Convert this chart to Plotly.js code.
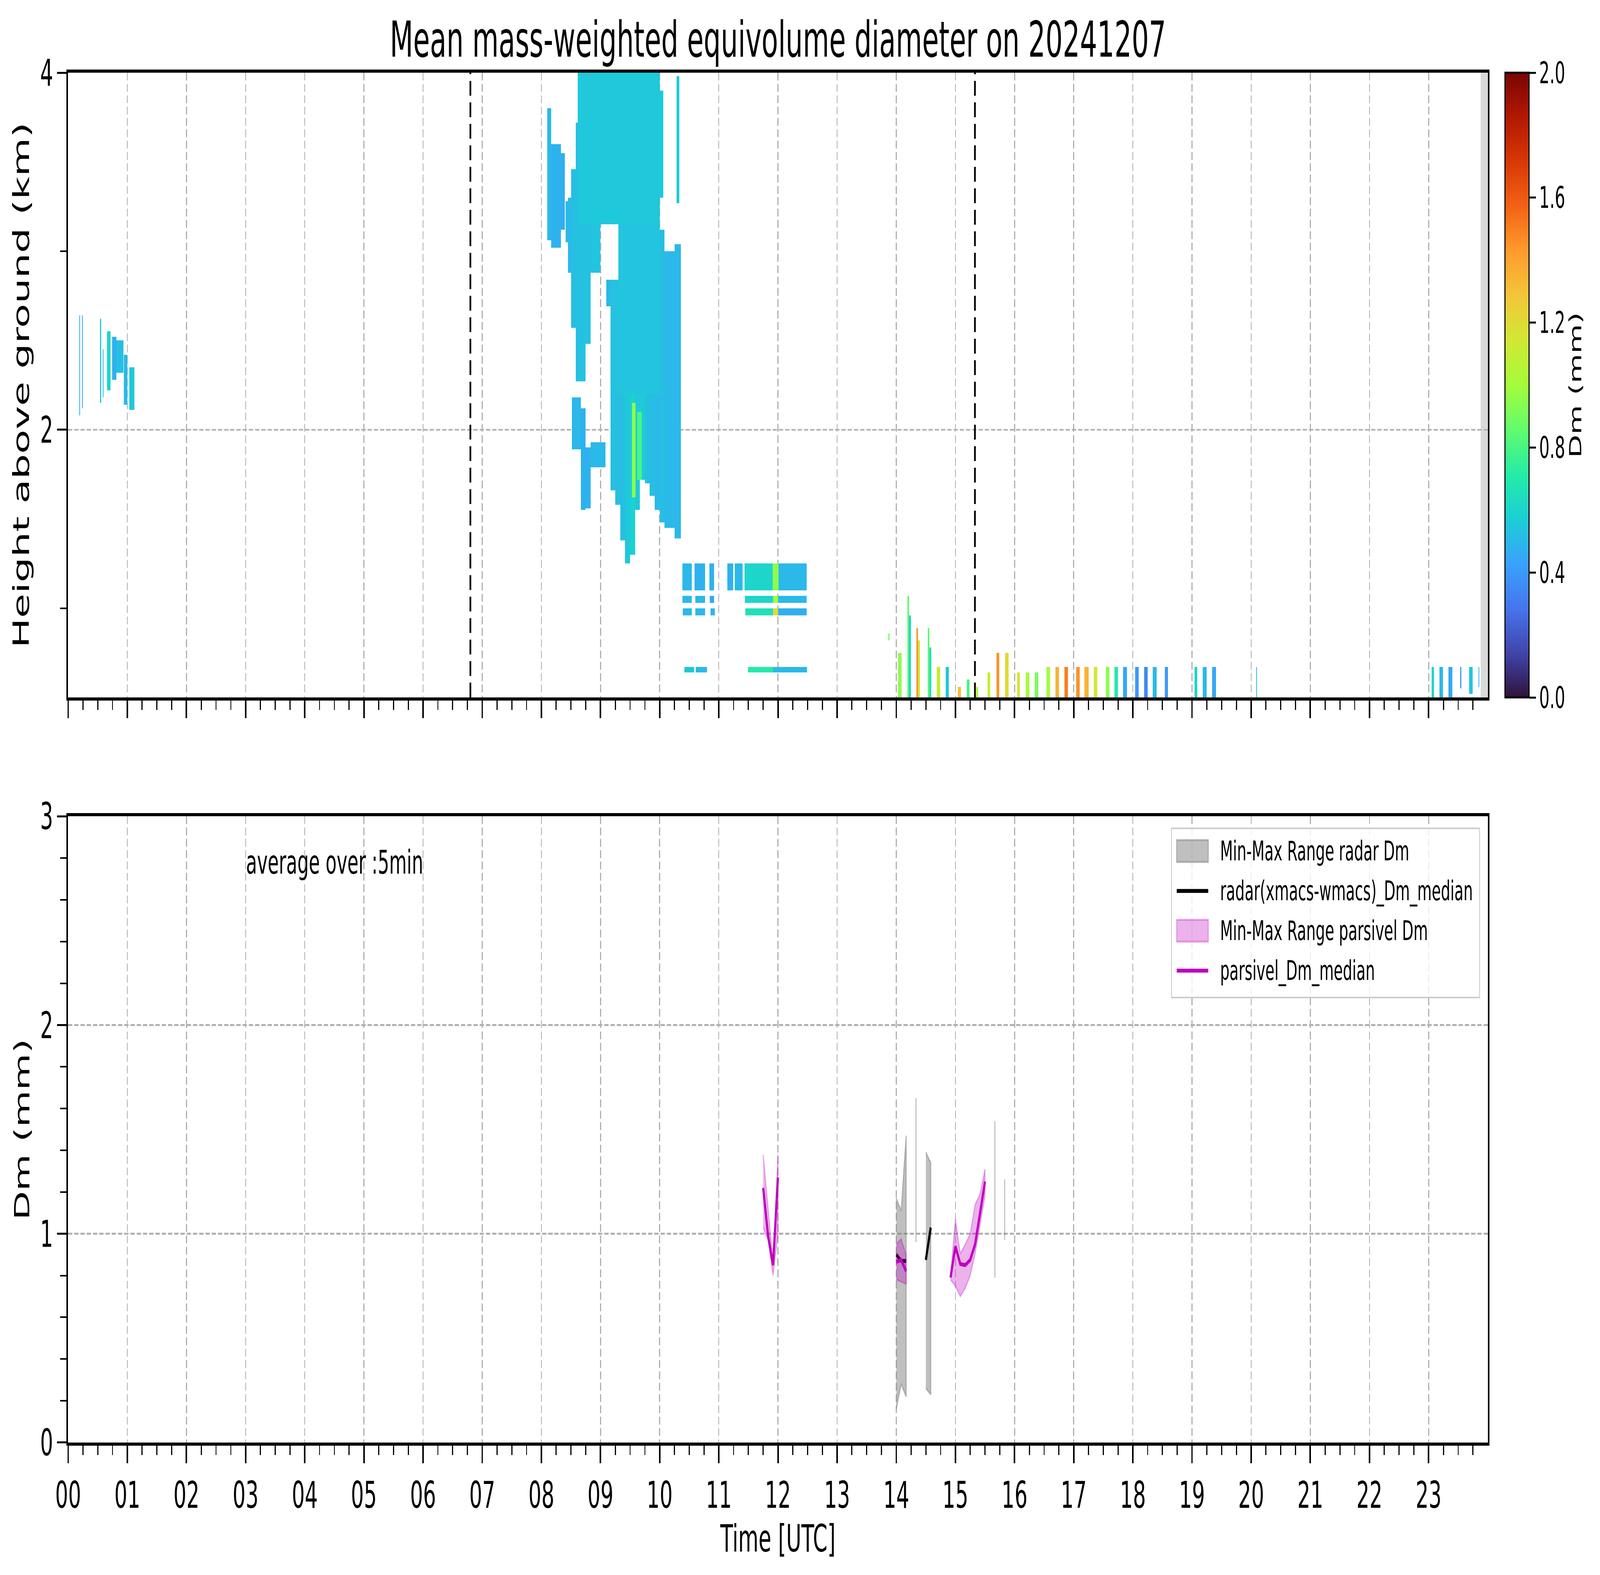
<!DOCTYPE html>
<html>
<head>
<meta charset="utf-8">
<script src="https://cdn.plot.ly/plotly-3.0.1.min.js"></script>
<style>
  html, body { margin: 0; padding: 0; background: #fff; overflow: hidden; }
  #chart { width: 7442px; height: 4031px; transform-origin: 0 0; }
</style>
</head>
<body>
<div id="chart"></div>
<script>
const HOUR_TICKS = [0, 1, 2, 3, 4, 5, 6, 7, 8, 9, 10, 11, 12, 13, 14, 15, 16, 17, 18, 19, 20, 21, 22, 23];
const HOUR_LABELS = ["00", "01", "02", "03", "04", "05", "06", "07", "08", "09", "10", "11",
  "12", "13", "14", "15", "16", "17", "18", "19", "20", "21", "22", "23"];

// matplotlib "turbo"
const TURBO = ["#30123b", "#4145ab", "#4675ed", "#39a2fc", "#1bcfd4", "#24eca6", "#61fc6c",
  "#a4fc3b", "#d1e834", "#f3c63a", "#fe9b2d", "#f36315", "#d93806", "#b11901", "#7a0403"];

// radar echoes: [start h, end h, bottom km, top km, Dm mm]
const echoEarly = [
  [0.19, 0.20, 2.08, 2.64, 0.5],
  [0.23, 0.25, 2.12, 2.64, 0.45],
  [0.54, 0.56, 2.15, 2.62, 0.55],
  [0.58, 0.60, 2.18, 2.45, 0.5],
  [0.66, 0.72, 2.22, 2.55, 0.6],
  [0.74, 0.82, 2.28, 2.52, 0.48],
  [0.82, 0.93, 2.32, 2.50, 0.52],
  [0.94, 1.00, 2.14, 2.42, 0.5],
  [1.03, 1.12, 2.11, 2.35, 0.55],
];

const echoCloud = [
  [8.10, 8.17, 3.06, 3.80, 0.5],
  [8.17, 8.33, 3.02, 3.60, 0.48],
  [8.33, 8.40, 3.12, 3.55, 0.47],
  [8.41, 8.45, 3.05, 3.28, 0.5],
  [8.45, 8.50, 2.88, 3.30, 0.5],
  [8.50, 8.58, 2.57, 3.46, 0.52],
  [8.58, 8.62, 2.27, 3.72, 0.52],
  [8.62, 10.00, 3.15, 4.00, 0.55],
  [8.62, 8.75, 2.27, 3.15, 0.53],
  [8.75, 8.83, 2.48, 3.15, 0.53],
  [8.83, 9.00, 2.88, 3.15, 0.54],
  [9.10, 9.17, 2.69, 2.84, 0.5],
  [8.52, 8.67, 1.89, 2.18, 0.5],
  [8.67, 8.75, 1.55, 2.12, 0.48],
  [8.75, 8.83, 1.56, 1.90, 0.48],
  [8.83, 9.08, 1.79, 1.93, 0.5],
  [9.17, 9.30, 2.20, 2.84, 0.53],
  [9.30, 10.00, 2.20, 3.15, 0.54],
  [9.17, 9.25, 1.66, 2.20, 0.52],
  [9.25, 9.33, 1.58, 2.20, 0.52],
  [9.33, 9.42, 1.38, 2.20, 0.52],
  [9.42, 9.50, 1.25, 2.20, 0.55],
  [9.50, 9.58, 1.30, 2.20, 0.58],
  [9.58, 9.67, 1.55, 2.20, 0.55],
  [9.67, 9.75, 1.72, 2.20, 0.56],
  [9.75, 9.83, 1.70, 2.20, 0.52],
  [9.83, 9.92, 1.63, 2.20, 0.52],
  [9.92, 10.00, 1.55, 2.20, 0.5],
  [9.53, 9.59, 1.62, 2.15, 0.95],
  [9.62, 9.70, 1.72, 2.10, 0.8],
  [10.00, 10.08, 1.48, 3.12, 0.52],
  [10.00, 10.06, 3.30, 3.90, 0.55],
  [10.08, 10.25, 1.45, 3.00, 0.5],
  [10.25, 10.36, 1.39, 3.04, 0.5],
  [10.28, 10.33, 3.27, 3.98, 0.56],
];

const echoLayers = [
  [10.38, 10.54, 1.10, 1.25, 0.5],
  [10.59, 10.77, 1.10, 1.25, 0.48],
  [10.84, 10.92, 1.10, 1.25, 0.48],
  [11.14, 11.24, 1.10, 1.25, 0.48],
  [11.27, 11.40, 1.10, 1.25, 0.5],
  [11.43, 11.91, 1.10, 1.25, 0.6],
  [11.91, 12.01, 1.10, 1.25, 0.95],
  [12.01, 12.48, 1.10, 1.25, 0.5],
  [10.38, 10.54, 1.03, 1.07, 0.5],
  [10.60, 10.77, 1.03, 1.07, 0.5],
  [10.85, 10.92, 1.03, 1.07, 0.45],
  [11.44, 11.92, 1.03, 1.07, 0.6],
  [11.92, 12.00, 1.03, 1.07, 1.0],
  [12.00, 12.48, 1.03, 1.07, 0.5],
  [10.39, 10.54, 0.96, 1.00, 0.5],
  [10.60, 10.77, 0.96, 1.00, 0.5],
  [10.86, 10.93, 0.96, 1.00, 0.5],
  [11.45, 11.92, 0.96, 1.00, 0.65],
  [11.92, 12.00, 0.96, 1.00, 1.2],
  [12.00, 12.48, 0.96, 1.00, 0.47],
  [10.42, 10.58, 0.635, 0.672, 0.55],
  [10.61, 10.80, 0.635, 0.672, 0.5],
  [11.49, 11.92, 0.635, 0.672, 0.7],
  [11.92, 12.49, 0.635, 0.672, 0.5],
];

const echoSurface = [
  [13.87, 13.88, 0.82, 0.86, 0.9],
  [14.03, 14.09, 0.50, 0.745, 0.95],
  [14.19, 14.22, 0.50, 1.07, 0.85],
  [14.22, 14.25, 0.50, 0.96, 0.6],
  [14.34, 14.37, 0.50, 0.89, 1.45],
  [14.37, 14.40, 0.50, 0.82, 1.15],
  [14.53, 14.56, 0.50, 0.89, 0.85],
  [14.56, 14.59, 0.50, 0.78, 0.65],
  [14.68, 14.74, 0.50, 0.67, 1.1],
  [14.83, 14.89, 0.50, 0.67, 0.55],
  [15.04, 15.09, 0.50, 0.565, 1.3],
  [15.19, 15.24, 0.50, 0.60, 0.8],
  [15.35, 15.38, 0.50, 0.565, 1.0],
  [15.54, 15.59, 0.50, 0.635, 1.1],
  [15.69, 15.74, 0.50, 0.745, 1.45],
  [15.84, 15.90, 0.50, 0.745, 1.2],
  [16.04, 16.09, 0.50, 0.636, 1.15],
  [16.19, 16.25, 0.50, 0.636, 1.0],
  [16.34, 16.40, 0.50, 0.636, 0.9],
  [16.54, 16.60, 0.50, 0.672, 1.0],
  [16.69, 16.75, 0.50, 0.672, 1.35],
  [16.84, 16.90, 0.50, 0.672, 1.5],
  [17.04, 17.10, 0.50, 0.672, 1.45],
  [17.18, 17.25, 0.50, 0.672, 1.35],
  [17.34, 17.40, 0.50, 0.672, 1.15],
  [17.54, 17.60, 0.50, 0.672, 0.95],
  [17.69, 17.75, 0.50, 0.672, 0.7],
  [17.83, 17.90, 0.50, 0.672, 0.45],
  [18.04, 18.10, 0.50, 0.672, 0.4],
  [18.19, 18.25, 0.50, 0.672, 0.35],
  [18.33, 18.40, 0.50, 0.672, 0.5],
  [18.54, 18.59, 0.50, 0.672, 0.4],
  [19.04, 19.09, 0.50, 0.672, 0.6],
  [19.18, 19.25, 0.50, 0.672, 0.5],
  [19.34, 19.41, 0.50, 0.672, 0.45],
  [20.08, 20.10, 0.50, 0.672, 0.5],
  [23.05, 23.09, 0.50, 0.672, 0.6],
  [23.18, 23.24, 0.50, 0.672, 0.5],
  [23.33, 23.40, 0.50, 0.672, 0.45],
  [23.53, 23.55, 0.55, 0.672, 0.4],
  [23.68, 23.74, 0.52, 0.672, 0.55],
  [23.84, 23.86, 0.564, 0.672, 0.5],
];

// event markers and the no-data span (hours)
const EVENT_TIMES = [6.8, 15.33];
const NODATA_SPAN = [23.88, 24];

// 5-min Dm statistics, bottom panel
const radarTimes = [14.0, 14.083, 14.167, 14.333, 14.5, 14.583, 15.667, 15.833];
const radarMin = [0.16, 0.28, 0.22, 0.96, 0.26, 0.23, 0.79, 0.97];
const radarMax = [1.17, 1.11, 1.47, 1.65, 1.39, 1.34, 1.54, 1.26];
const radarMedian = [0.90, 0.87, 0.87, null, 0.875, 1.03, null, null];

const parsivelTimes = [11.75, 11.833, 11.917, 12.0, 14.0, 14.083, 14.167,
  14.917, 15.0, 15.083, 15.167, 15.25, 15.333, 15.417, 15.5];
const parsivelMin = [1.03, 0.97, 0.80, 1.00, 0.78, 0.77, 0.76,
  0.78, 0.75, 0.70, 0.74, 0.80, 0.905, 1.045, 1.18];
const parsivelMax = [1.38, 1.12, 0.86, 1.38, 0.95, 0.975, 0.90,
  0.80, 1.07, 0.905, 0.95, 1.00, 1.14, 1.19, 1.31];
const parsivelMedian = [1.22, 0.99, 0.85, 1.27, 0.865, 0.875, 0.82,
  0.79, 0.94, 0.855, 0.85, 0.875, 0.95, 1.10, 1.25];

// grid for the height-time image
const DT = 1 / 120;
const DH = 0.01;
const H_MIN = 0.5;
const H_MAX = 4.0;

function rasterize(lists) {
  const nx = Math.round(24 / DT);
  const ny = Math.round((H_MAX - H_MIN) / DH);
  const z = [];
  for (let j = 0; j < ny; j++) z.push(new Array(nx).fill(null));
  lists.forEach((list) => {
    list.forEach(([t0, t1, hb, ht, dm]) => {
      const i0 = Math.round(t0 / DT);
      const i1 = Math.max(i0 + 1, Math.round(t1 / DT));
      const j0 = Math.round((hb - H_MIN) / DH);
      const j1 = Math.max(j0 + 1, Math.round((ht - H_MIN) / DH));
      for (let j = Math.max(j0, 0); j < Math.min(j1, ny); j++) {
        for (let i = i0; i < Math.min(i1, nx); i++) z[j][i] = dm;
      }
    });
  });
  return z;
}

// split into runs of consecutive 5-min samples
function splitRuns(times) {
  const runs = [];
  let cur = [];
  times.forEach((t, k) => {
    if (cur.length && t - times[cur[cur.length - 1]] > 0.1) {
      runs.push(cur);
      cur = [];
    }
    cur.push(k);
  });
  if (cur.length) runs.push(cur);
  return runs;
}

function rangePolygons(times, lo, hi) {
  const x = [];
  const y = [];
  splitRuns(times).forEach((run) => {
    if (x.length) { x.push(null); y.push(null); }
    run.forEach((k) => { x.push(times[k]); y.push(hi[k]); });
    run.slice().reverse().forEach((k) => { x.push(times[k]); y.push(lo[k]); });
  });
  return { x, y };
}

function medianLine(times, med) {
  const x = [];
  const y = [];
  splitRuns(times).forEach((run) => {
    if (x.length) { x.push(null); y.push(null); }
    run.forEach((k) => { x.push(times[k]); y.push(med[k]); });
  });
  return { x, y };
}

const radarRange = rangePolygons(radarTimes, radarMin, radarMax);
const radarLine = medianLine(radarTimes, radarMedian);
const parsivelRange = rangePolygons(parsivelTimes, parsivelMin, parsivelMax);
const parsivelLine = medianLine(parsivelTimes, parsivelMedian);

const GRAY_FILL = "rgba(128,128,128,0.5)";
const PINK_FILL = "rgba(191,0,191,0.3)";
const MAGENTA = "#bf00bf";

const data = [
  {
    type: "heatmap",
    z: rasterize([echoEarly, echoCloud, echoLayers, echoSurface]),
    x0: DT / 2,
    dx: DT,
    y0: H_MIN + DH / 2,
    dy: DH,
    zmin: 0,
    zmax: 2,
    zsmooth: false,
    colorscale: TURBO.map((c, i) => [i / (TURBO.length - 1), c]),
    hoverinfo: "skip",
    showlegend: false,
    xaxis: "x",
    yaxis: "y",
    colorbar: {
      x: 1.0121, xanchor: "left", xref: "paper", xpad: 0,
      y: 1, yanchor: "top", yref: "paper", ypad: 0,
      len: 0.4561, lenmode: "fraction",
      thickness: 112, thicknessmode: "pixels",
      outlinewidth: 5, outlinecolor: "black",
      ticks: "outside", ticklen: 30, tickwidth: 5, tickcolor: "black",
      tickvals: [0, 0.4, 0.8, 1.2, 1.6, 2.0],
      tickformat: ".1f",
      tickfont: { size: 76 },
      title: { text: "Dm (mm)", side: "right", font: { size: 78 } },
    },
  },
  {
    type: "scatter",
    mode: "lines",
    name: "Min-Max Range radar Dm",
    x: radarRange.x,
    y: radarRange.y,
    fill: "toself",
    fillcolor: GRAY_FILL,
    line: { color: GRAY_FILL, width: 5 },
    xaxis: "x2",
    yaxis: "y2",
    hoverinfo: "skip",
  },
  {
    type: "scatter",
    mode: "lines",
    name: "radar(xmacs-wmacs)_Dm_median",
    x: radarLine.x,
    y: radarLine.y,
    line: { color: "black", width: 10 },
    xaxis: "x2",
    yaxis: "y2",
    hoverinfo: "skip",
  },
  {
    type: "scatter",
    mode: "lines",
    name: "Min-Max Range parsivel Dm",
    x: parsivelRange.x,
    y: parsivelRange.y,
    fill: "toself",
    fillcolor: PINK_FILL,
    line: { color: PINK_FILL, width: 5 },
    xaxis: "x2",
    yaxis: "y2",
    hoverinfo: "skip",
  },
  {
    type: "scatter",
    mode: "lines",
    name: "parsivel_Dm_median",
    x: parsivelLine.x,
    y: parsivelLine.y,
    line: { color: MAGENTA, width: 10 },
    xaxis: "x2",
    yaxis: "y2",
    hoverinfo: "skip",
  },
];

// matplotlib-style legend box (paper coords), built from the line traces
const LEG = { x0: 0.7772, x1: 0.9942, y0: 0.3249, y1: 0.4484, swatch0: 0.7809, swatch1: 0.8031, text: 0.8111, row0: 0.4318, step: 0.0291, half: 0.008 };
const legendShapes = [
  {
    type: "rect", xref: "paper", yref: "paper",
    x0: LEG.x0, x1: LEG.x1, y0: LEG.y0, y1: LEG.y1,
    fillcolor: "rgba(255,255,255,0.8)", line: { color: "#cccccc", width: 4 },
  },
];
const legendNotes = [];
data.slice(1).forEach((tr, k) => {
  const y = LEG.row0 - k * LEG.step;
  if (tr.fill) {
    legendShapes.push({
      type: "rect", xref: "paper", yref: "paper",
      x0: LEG.swatch0, x1: LEG.swatch1, y0: y - LEG.half, y1: y + LEG.half,
      fillcolor: tr.fillcolor, line: { color: tr.line.color, width: 5 },
    });
  } else {
    legendShapes.push({
      type: "line", xref: "paper", yref: "paper",
      x0: LEG.swatch0, x1: LEG.swatch1, y0: y, y1: y,
      line: { color: tr.line.color, width: tr.line.width },
    });
  }
  legendNotes.push({
    xref: "paper", yref: "paper", x: LEG.text, y: y,
    xanchor: "left", yanchor: "middle", showarrow: false,
    text: tr.name, font: { size: 69 },
  });
});

const quarterTicks = [];
HOUR_TICKS.forEach((h) => quarterTicks.push(h + 0.25, h + 0.5, h + 0.75));

const gridStyle = {
  showgrid: true,
  gridcolor: "#b0b0b0",
  gridwidth: 4.5,
  griddash: "20px,9px",
  showline: true,
  linewidth: 8,
  linecolor: "black",
  mirror: true,
  zeroline: false,
  ticks: "outside",
  tickcolor: "black",
};

const timeAxis = {
  ...gridStyle,
  range: [0, 24],
  tickmode: "array",
  tickvals: HOUR_TICKS,
  ticktext: HOUR_LABELS,
  ticklen: 45,
  tickwidth: 7,
  minor: {
    tickmode: "array",
    tickvals: quarterTicks,
    ticks: "outside",
    ticklen: 24,
    tickwidth: 5,
    tickcolor: "black",
    showgrid: false,
  },
};

const layout = {
  width: 7442,
  height: 4031,
  margin: { l: 317, r: 522, t: 186, b: 339 },
  paper_bgcolor: "white",
  plot_bgcolor: "white",
  font: { family: "DejaVu Sans", size: 95, color: "black" },
  title: {
    text: "Mean mass-weighted equivolume diameter on 20241207",
    font: { size: 126 },
    x: 0.5, xref: "paper", xanchor: "center",
    y: 0.975, yref: "container", yanchor: "middle",
  },
  showlegend: false,
  xaxis: { ...timeAxis, domain: [0, 1], anchor: "y", showticklabels: false },
  yaxis: {
    ...gridStyle,
    domain: [0.5439, 1],
    anchor: "x",
    range: [H_MIN, H_MAX],
    tickmode: "array",
    tickvals: [2, 4],
    ticklen: 43,
    tickwidth: 5,
    minor: { tickmode: "array", tickvals: [1, 3], ticks: "outside", ticklen: 30, tickwidth: 4, tickcolor: "black", showgrid: false },
    title: { text: "Height above ground (km)", standoff: 20, font: { size: 102 } },
  },
  xaxis2: {
    ...timeAxis,
    domain: [0, 1],
    anchor: "y2",
    showticklabels: true,
    title: { text: "Time [UTC]", standoff: 22, font: { size: 97 } },
  },
  yaxis2: {
    ...gridStyle,
    domain: [0, 0.4572],
    anchor: "x2",
    range: [0, 3],
    tickmode: "array",
    tickvals: [0, 1, 2, 3],
    ticklen: 43,
    tickwidth: 5,
    minor: {
      tickmode: "array",
      tickvals: [0.2, 0.4, 0.6, 0.8, 1.2, 1.4, 1.6, 1.8, 2.2, 2.4, 2.6, 2.8],
      ticks: "outside", ticklen: 30, tickwidth: 4, tickcolor: "black", showgrid: false,
    },
    title: { text: "Dm (mm)", standoff: 20, font: { size: 97 } },
  },
  shapes: [
    {
      type: "rect", xref: "x", yref: "y domain",
      x0: NODATA_SPAN[0], x1: NODATA_SPAN[1], y0: 0, y1: 1,
      fillcolor: "rgba(128,128,128,0.3)", line: { width: 0 }, layer: "below",
    },
    ...EVENT_TIMES.map((t) => ({
      type: "line", xref: "x", yref: "y domain",
      x0: t, x1: t, y0: 0, y1: 1,
      line: { color: "black", width: 8, dash: "38px,17px" },
    })),
    ...legendShapes,
  ],
  annotations: [
    {
      xref: "x2", yref: "y2", x: 3.0, y: 2.78,
      xanchor: "left", yanchor: "middle", showarrow: false,
      text: "average over :5min", font: { size: 84 },
    },
    ...legendNotes,
  ],
};

// the browser window may be narrower than the 7442 px figure: squeeze it to fit
const chartEl = document.getElementById("chart");
const sx = Math.min(1, window.innerWidth / 7442);
const sy = Math.min(1, window.innerHeight / 4031);
chartEl.style.transform = "scale(" + sx + "," + sy + ")";

Plotly.newPlot(chartEl, data, layout, { staticPlot: true });
</script>
</body>
</html>
